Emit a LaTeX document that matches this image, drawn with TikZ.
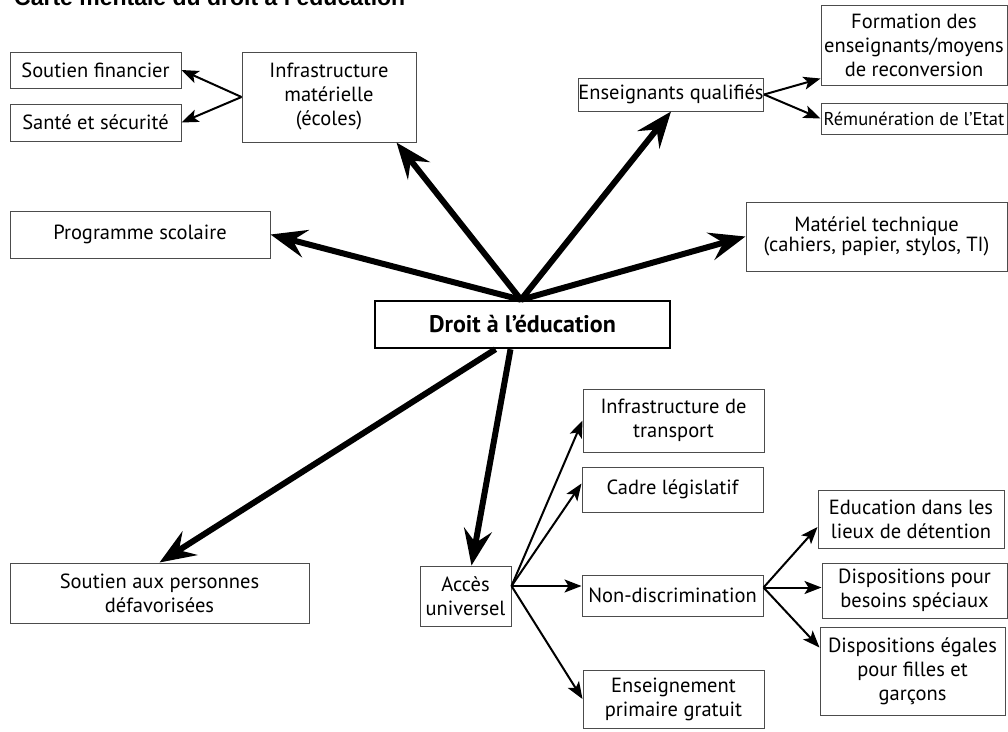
\documentclass[tikz,border=0pt]{standalone}
\usepackage{fontspec}
\setmainfont{PT Sans}
\newfontfamily\titlefont{Liberation Sans}
\usetikzlibrary{arrows.meta}

\begin{document}
\begin{tikzpicture}[x=1pt,y=-1pt,
    box/.style={draw=black!70,line width=1pt,align=center,inner sep=0pt,
      font=\fontsize{20.5}{24}\selectfont},
    big/.style={line width=6pt,-{Stealth[length=36pt,width=28pt,inset=13pt]}},
    small/.style={line width=2pt,-{Stealth[length=17pt,width=13pt,inset=4pt]}}]
  \useasboundingbox (0,0) rectangle (1008,731);
  \node[anchor=base west,inner sep=0pt,font=\titlefont\bfseries\fontsize{23}{26}\selectfont]
    (title) at (14,5) {Carte mentale du droit à l’éducation};
  \draw
    (522.5,324.5) node[box,draw=black,line width=2.5pt,minimum width=295pt,minimum height=47pt,
      font=\bfseries\fontsize{24}{28}\selectfont] (droit){Droit à l’éducation}
    (95.5,70) node[box,minimum width=171pt,minimum height=36pt] (soutienfin){Soutien financier}
    (95.5,122.5) node[box,minimum width=171pt,minimum height=37pt] (sante){Santé et sécurité}
    (329,97) node[box,minimum width=174pt,minimum height=90pt] (infra){Infrastructure\\matérielle\\(écoles)}
    (671,94.5) node[box,minimum width=182pt,minimum height=33pt] (enseignants){Enseignants qualifiés}
    (914,45) node[box,minimum width=186pt,minimum height=80pt] (formation){Formation des\\enseignants/moyens\\de reconversion}
    (914,118.5) node[box,minimum width=186pt,minimum height=31pt,
      font=\fontsize{18.5}{22}\selectfont] (remun){Rémunération de l’Etat}
    (140,234.5) node[box,minimum width=260pt,minimum height=47pt] (programme){Programme scolaire}
    (876.5,236.5) node[box,minimum width=261pt,minimum height=69pt,
      font=\fontsize{20.5}{18}\selectfont] (materiel){Matériel technique\\(cahiers, papier, stylos, TI)}
    (159.5,593) node[box,minimum width=299pt,minimum height=60pt] (soutienpers){Soutien aux personnes\\défavorisées}
    (465.5,596) node[box,minimum width=91pt,minimum height=60pt] (acces){Accès\\universel}
    (673.5,420.5) node[box,minimum width=181pt,minimum height=63pt] (transport){Infrastructure de\\transport}
    (672.5,489.5) node[box,minimum width=181pt,minimum height=45pt] (cadre){Cadre législatif}
    (672.5,595.5) node[box,minimum width=181pt,minimum height=41pt] (nondisc){Non-discrimination}
    (673.5,699) node[box,minimum width=181pt,minimum height=58pt] (primaire){Enseignement\\primaire gratuit}
    (911,519) node[box,minimum width=186pt,minimum height=58pt] (detention){Education dans les\\lieux de détention}
    (914.5,590.5) node[box,minimum width=185pt,minimum height=55pt] (speciaux){Dispositions pour\\besoins spéciaux}
    (912.5,671) node[box,minimum width=185pt,minimum height=88pt] (egales){Dispositions égales\\pour filles et\\garçons};
  \coordinate (hubtop) at ([xshift=-1.5pt]droit.north);
  \coordinate (hubleft) at ([xshift=-27pt]droit.south);
  \coordinate (hubright) at ([xshift=-12pt]droit.south);
  \coordinate (accsrc) at ([yshift=10pt]acces.east);
  \coordinate (ndsrc) at ([yshift=8pt]nondisc.east);
  % main branches
  \begin{scope}[big]
    \draw (hubtop) -- (programme.east);
    \draw (hubtop) -- ([xshift=-20pt]infra.south east);
    \draw (hubtop) -- (enseignants.south);
    \draw (hubtop) -- (materiel.west);
    \draw (hubleft) -- (soutienpers.north);
    \draw (hubright) -- ([xshift=6pt]acces.north);
  \end{scope}
  % sub branches
  \begin{scope}[small]
    \draw (infra.west) -- (soutienfin.east);
    \draw (infra.west) -- (sante.east);
    \draw (enseignants.east) -- ([yshift=7pt]formation.south west);
    \draw (enseignants.east) -- (remun.west);
    \draw (accsrc) -- (transport.west);
    \draw (accsrc) -- ([yshift=6pt]cadre.west);
    \draw (accsrc) -- (accsrc -| nondisc.west);
    \draw (accsrc) -- (primaire.west);
    \draw (ndsrc) -- ([yshift=-8pt]detention.west);
    \draw (ndsrc) -- (ndsrc -| speciaux.west);
    \draw (ndsrc) -- ([yshift=-21pt]egales.north west);
  \end{scope}
\end{tikzpicture}
\end{document}
